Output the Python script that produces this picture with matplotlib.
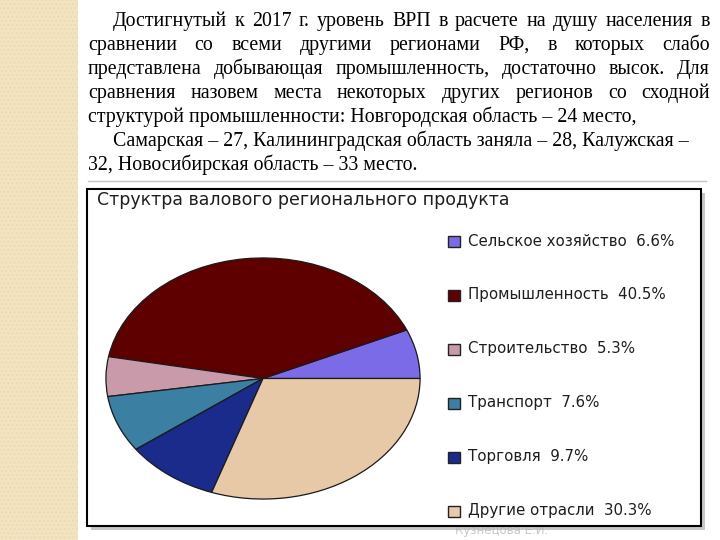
import matplotlib
matplotlib.use("Agg")
import matplotlib.pyplot as plt
from matplotlib.patches import Rectangle

# Slide size in pixels
W, H = 720, 540

# Chart data
sectors = ['Сельское хозяйство', 'Промышленность', 'Строительство',
           'Транспорт', 'Торговля', 'Другие отрасли']
shares = [6.6, 40.5, 5.3, 7.6, 9.7, 30.3]
sectorColors = ['#7b6be6', '#5e0000', '#c99aaa', '#3b7fa3', '#1b2b8c', '#e7c9a8']
chartTitle = 'Структра валового регионального продукта'

# Slide text, one entry per line
textLines = [
    "Достигнутый к 2017 г. уровень ВРП в расчете на душу населения в",
    "сравнении со всеми другими регионами РФ, в которых слабо",
    "представлена добывающая промышленность, достаточно высок. Для",
    "сравнения назовем места некоторых других регионов со сходной",
    "структурой промышленности: Новгородская область – 24 место,",
    "Самарская – 27, Калининградская область заняла – 28, Калужская –",
    "32, Новосибирская область – 33 место.",
]
lineIndent = [True, False, False, False, False, True, False]
lineJustify = [True, True, True, True, False, False, False]

serif = 'Liberation Serif'
textSize = 14.3


def fx(x):
    return x / W


def fy(y):
    return 1 - y / H


def putLine(fig, renderer, text, x0, x1, y, justify):
    if not justify:
        fig.text(fx(x0), fy(y), text, ha='left', va='baseline',
                 family=serif, fontsize=textSize, color='black')
        return
    words = text.split(' ')
    widths = []
    for w in words:
        t = fig.text(0, 0, w, family=serif, fontsize=textSize)
        widths.append(t.get_window_extent(renderer).width)
        t.remove()
    gap = (x1 - x0 - sum(widths)) / (len(words) - 1)
    x = x0
    for w, wd in zip(words, widths):
        fig.text(fx(x), fy(y), w, ha='left', va='baseline',
                 family=serif, fontsize=textSize, color='black')
        x += wd + gap


fig = plt.figure(figsize=(7.2, 5.4), dpi=100)
fig.patch.set_facecolor('white')
renderer = fig.canvas.get_renderer()

# Beige strip on the left
fig.add_artist(Rectangle((0, 0), fx(78), 1, transform=fig.transFigure,
                         facecolor='#f3e4c1', edgecolor='#ecdab2', hatch='....',
                         linewidth=0, zorder=0.2))

# Paragraph
for i, line in enumerate(textLines):
    x0 = 113 if lineIndent[i] else 88
    putLine(fig, renderer, line, x0, 710, 26 + i * 24, lineJustify[i])

# Thin line above the chart picture
fig.add_artist(plt.Line2D([fx(88), fx(706)], [fy(181), fy(181)],
                          transform=fig.transFigure, color='#c4c4c4', lw=1))

# Chart frame with shadow
fig.text(fx(455), fy(534), 'Кузнецова Е.И.', fontsize=8.5, color='#c8c8c8',
         va='baseline', zorder=0.3)
fig.add_artist(Rectangle((fx(91), fy(530)), (701 - 87) / W, (526 - 189) / H,
                         transform=fig.transFigure, facecolor='#b0b0b0',
                         edgecolor='none', alpha=0.7, zorder=0.5))
fig.add_artist(Rectangle((fx(87), fy(526)), (701 - 87) / W, (526 - 189) / H,
                         transform=fig.transFigure, facecolor='white',
                         edgecolor='black', linewidth=1.5, zorder=1))

fig.text(fx(97), fy(200), chartTitle, fontsize=12.5, family='DejaVu Sans',
         color='#1e1e1e', va='center', ha='left', zorder=2)

# Pie chart (elliptical)
ax = fig.add_axes([fx(105), fy(500), 316 / W, 243 / H])
ax.set_zorder(5)
wedges, _ = ax.pie(shares, colors=sectorColors, startangle=0, counterclock=True,
                   wedgeprops=dict(edgecolor='#1a1a1a', linewidth=0.9))
ax.set_aspect('auto')
ax.set_xlim(-1.006, 1.006)
ax.set_ylim(-1.008, 1.008)
ax.axis('off')

# Legend
for i, (name, val, col) in enumerate(zip(sectors, shares, sectorColors)):
    yc = 241 + i * 54
    fig.add_artist(Rectangle((fx(448), fy(yc + 5.5)), 12 / W, 11 / H,
                             transform=fig.transFigure, facecolor=col,
                             edgecolor='#222222', linewidth=1, zorder=3))
    fig.text(fx(468), fy(yc), f"{name}  {val:.1f}%", fontsize=10.8,
             family='DejaVu Sans', color='#1e1e1e', va='center', ha='left', zorder=3)

fig.savefig('out.png', dpi=100)
